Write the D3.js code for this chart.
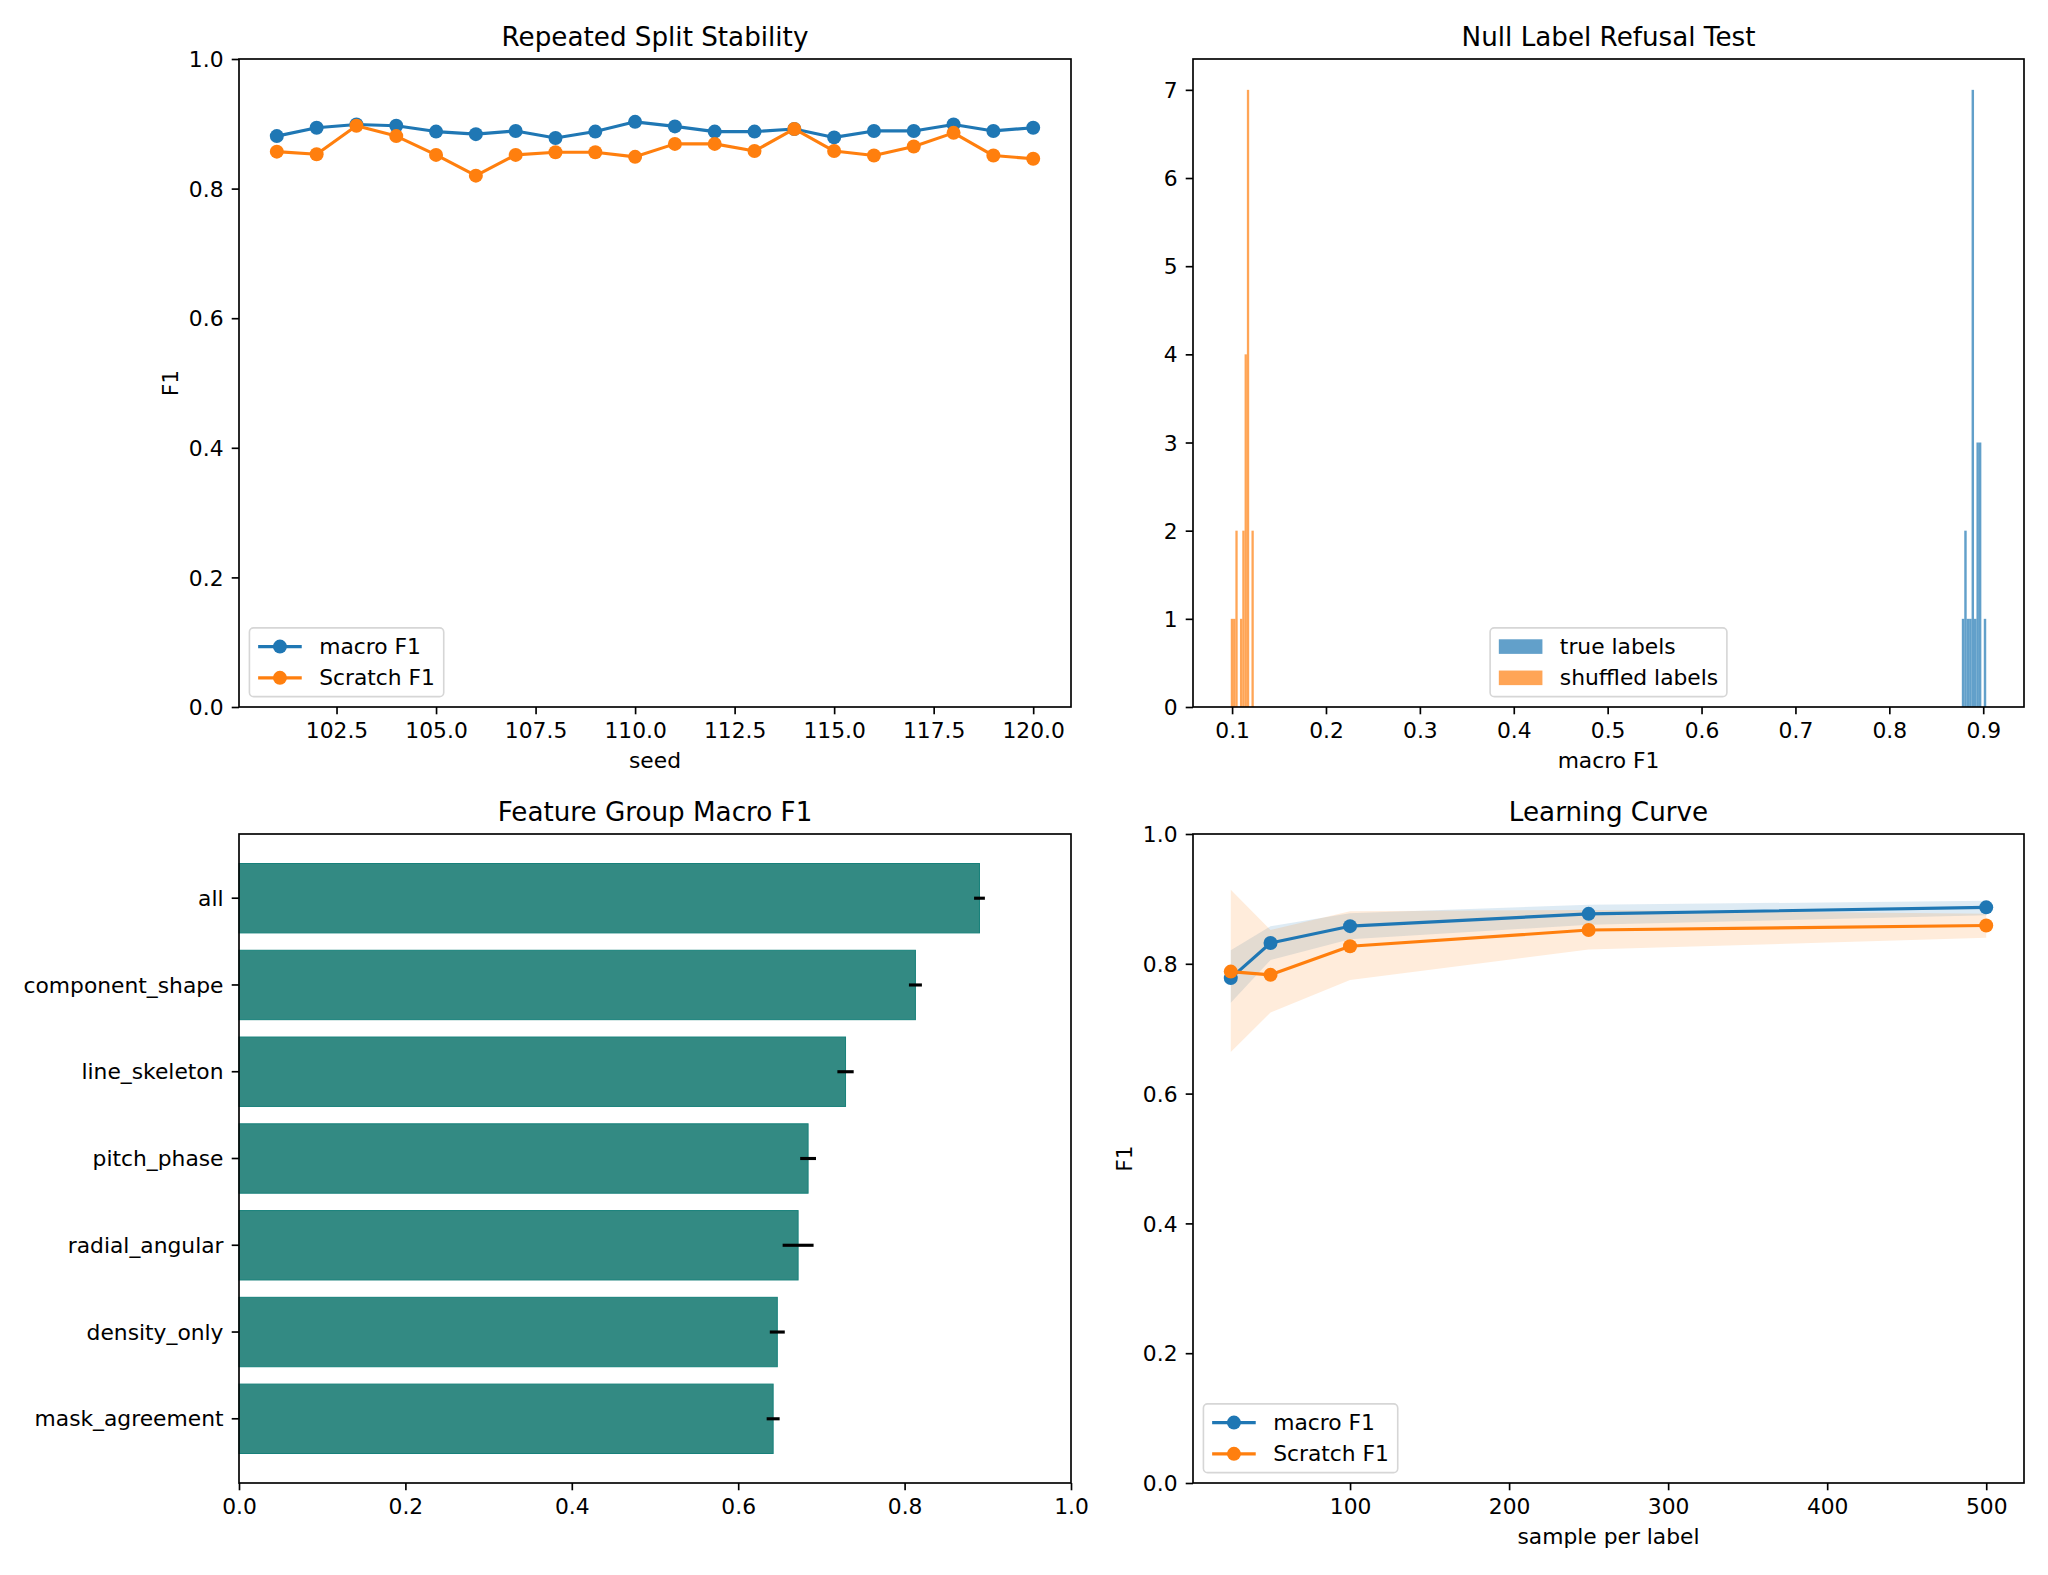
<!DOCTYPE html>
<html lang="en">
<head>
<meta charset="utf-8">
<title>Evaluation panels</title>
<script src="https://cdn.jsdelivr.net/npm/d3@7/dist/d3.min.js"></script>
<style>
  body { margin: 0; background: #fff; }
</style>
</head>
<body>
<script>
// values
var seeds = [101, 102, 103, 104, 105, 106, 107, 108, 109, 110,
             111, 112, 113, 114, 115, 116, 117, 118, 119, 120];
var splitMacro = [0.881, 0.894, 0.899, 0.897, 0.888, 0.884, 0.889, 0.878, 0.888, 0.903,
                  0.896, 0.888, 0.888, 0.892, 0.879, 0.889, 0.889, 0.899, 0.889, 0.894];
var splitScratch = [0.857, 0.853, 0.897, 0.881, 0.852, 0.820, 0.852, 0.856, 0.856, 0.849,
                    0.869, 0.869, 0.858, 0.892, 0.858, 0.851, 0.865, 0.886, 0.851, 0.846];
var seedTicks = [102.5, 105, 107.5, 110, 112.5, 115, 117.5, 120];
var f1Ticks = [0, 0.2, 0.4, 0.6, 0.8, 1.0];

// histograms: 10 bins over each range
var trueRange = [0.8772, 0.9032];
var trueCounts = [1, 2, 1, 1, 7, 1, 3, 3, 0, 1];
var shufRange = [0.0986, 0.1231];
var shufCounts = [1, 1, 2, 0, 1, 2, 4, 7, 0, 2];
var histTicksX = [0.1, 0.2, 0.3, 0.4, 0.5, 0.6, 0.7, 0.8, 0.9];
var histTicksY = [0, 1, 2, 3, 4, 5, 6, 7];

var groups = ["all", "component_shape", "line_skeleton", "pitch_phase",
              "radial_angular", "density_only", "mask_agreement"];
var groupF1 = [0.890, 0.813, 0.729, 0.684, 0.672, 0.647, 0.642];
var groupErr = [0.0065, 0.0078, 0.0098, 0.0095, 0.0186, 0.0090, 0.0078];
var barTicks = [0, 0.2, 0.4, 0.6, 0.8, 1.0];

var samples = [25, 50, 100, 250, 500];
var curveMacro = [0.778, 0.832, 0.858, 0.877, 0.887];
var curveMacroLo = [0.740, 0.806, 0.838, 0.860, 0.875];
var curveMacroHi = [0.821, 0.858, 0.878, 0.891, 0.897];
var curveScratch = [0.788, 0.783, 0.827, 0.852, 0.859];
var curveScratchLo = [0.664, 0.725, 0.775, 0.822, 0.840];
var curveScratchHi = [0.914, 0.852, 0.881, 0.883, 0.877];
var sampleTicks = [100, 200, 300, 400, 500];

var W = 2048, H = 1575;
var PT = 150 / 72;
var FS = 21.8, TFS = 26.2;
var FONT = "DejaVu Sans";
var blue = "#1f77b4", orange = "#ff7f0e";

var svg = d3.select("body").append("svg")
    .attr("width", W)
    .attr("height", H)
    .style("font-family", FONT);

var boxes = [
  {x0: 239, x1: 1071, y0: 59, y1: 707},
  {x0: 1193, x1: 2024, y0: 59, y1: 707},
  {x0: 239, x1: 1071, y0: 834, y1: 1483},
  {x0: 1193, x1: 2024, y0: 834, y1: 1483}
];

function styleAxis(a) {
  a.attr("font-size", FS).attr("font-family", FONT);
  a.select(".domain").remove();
  a.selectAll("line").attr("stroke", "#000").attr("stroke-width", 0.8 * PT);
  a.selectAll("text").attr("fill", "#000");
}

function bottomAxis(b, scale, ticks, fmt) {
  var ax = d3.axisBottom(scale).tickValues(ticks).tickFormat(fmt)
      .tickSizeInner(3.5 * PT).tickSizeOuter(0).tickPadding(8.6);
  var a = svg.append("g").attr("transform", "translate(0," + b.y1 + ")").call(ax);
  styleAxis(a);
}

function leftAxis(b, scale, ticks, fmt) {
  var ax = d3.axisLeft(scale).tickSizeInner(3.5 * PT).tickSizeOuter(0).tickPadding(8.2);
  if (ticks) ax.tickValues(ticks);
  if (fmt) ax.tickFormat(fmt);
  var a = svg.append("g").attr("transform", "translate(" + b.x0 + ",0)").call(ax);
  styleAxis(a);
  a.selectAll("text").attr("dy", "0.35em");
}

function frame(b) {
  svg.append("rect")
      .attr("x", b.x0).attr("y", b.y0)
      .attr("width", b.x1 - b.x0).attr("height", b.y1 - b.y0)
      .attr("fill", "none").attr("stroke", "#000").attr("stroke-width", 0.8 * PT);
}

function title(b, txt) {
  svg.append("text").attr("x", (b.x0 + b.x1) / 2).attr("y", b.y0 - 13.5)
      .attr("text-anchor", "middle").attr("font-size", TFS).text(txt);
}

function xlabel(b, txt) {
  svg.append("text").attr("x", (b.x0 + b.x1) / 2).attr("y", b.y1 + 61)
      .attr("text-anchor", "middle").attr("font-size", FS).text(txt);
}

function ylabel(b, x, txt) {
  var yc = (b.y0 + b.y1) / 2;
  svg.append("text").attr("transform", "translate(" + x + "," + yc + ") rotate(-90)")
      .attr("text-anchor", "middle").attr("font-size", FS).text(txt);
}

function legend(b, items, where) {
  var pad = 0.4 * FS, hl = 2 * FS, htp = 0.8 * FS, ls = 0.5 * FS;
  var fs0 = 10 * PT;
  var g = svg.append("g");
  var box = g.append("rect");
  var texts = items.map(function(d) {
    return g.append("text").attr("font-size", FS).text(d.label);
  });
  var tw = d3.max(texts, function(t) { return t.node().getComputedTextLength(); });
  var w = 2 * pad + hl + htp + tw;
  var h = 2 * 0.4 * fs0 + items.length * fs0 + (items.length - 1) * 0.5 * fs0;
  var x = where === "left" ? b.x0 + 0.5 * fs0 : (b.x0 + b.x1) / 2 - w / 2;
  var y = b.y1 - 0.5 * fs0 - h;
  box.attr("x", x).attr("y", y).attr("width", w).attr("height", h)
     .attr("rx", 0.2 * fs0).attr("fill", "#fff").attr("fill-opacity", 0.8)
     .attr("stroke", "#d6d6d6").attr("stroke-width", 1.6);
  items.forEach(function(d, i) {
    var cy = y + 0.4 * fs0 + fs0 / 2 + i * 1.5 * fs0;
    var hx = x + pad;
    if (d.kind === "line") {
      g.append("line").attr("x1", hx).attr("x2", hx + hl).attr("y1", cy).attr("y2", cy)
          .attr("stroke", d.color).attr("stroke-width", 1.5 * PT);
      g.append("circle").attr("cx", hx + hl / 2).attr("cy", cy).attr("r", 7).attr("fill", d.color);
    } else {
      g.append("rect").attr("x", hx).attr("y", cy - 0.35 * fs0).attr("width", hl)
          .attr("height", 0.7 * fs0).attr("fill", d.color).attr("fill-opacity", 0.7);
    }
    texts[i].attr("x", hx + hl + htp).attr("y", cy + 7.6);
  });
}

function series(x, y, xs, ys, color) {
  var pts = xs.map(function(v, i) { return [v, ys[i]]; });
  var line = d3.line().x(function(d) { return x(d[0]); }).y(function(d) { return y(d[1]); });
  svg.append("path").datum(pts).attr("d", line)
      .attr("fill", "none").attr("stroke", color).attr("stroke-width", 1.5 * PT)
      .attr("stroke-linejoin", "round");
  svg.append("g").selectAll("circle").data(pts).enter().append("circle")
      .attr("cx", function(d) { return x(d[0]); })
      .attr("cy", function(d) { return y(d[1]); })
      .attr("r", 7).attr("fill", color);
}

var fmt1 = d3.format(".1f");

// ---- panel 1: repeated split stability ----
(function() {
  var b = boxes[0];
  var x = d3.scaleLinear().domain([100.05, 120.95]).range([b.x0, b.x1]);
  var y = d3.scaleLinear().domain([0, 1]).range([b.y1, b.y0]);
  series(x, y, seeds, splitMacro, blue);
  series(x, y, seeds, splitScratch, orange);
  frame(b);
  bottomAxis(b, x, seedTicks, fmt1);
  leftAxis(b, y, f1Ticks, fmt1);
  title(b, "Repeated Split Stability");
  xlabel(b, "seed");
  ylabel(b, 177.6, "F1");
  legend(b, [{label: "macro F1", color: blue, kind: "line"},
             {label: "Scratch F1", color: orange, kind: "line"}], "left");
})();

// ---- panel 2: null label refusal test ----
(function() {
  var b = boxes[1];
  var lo = shufRange[0], hi = trueRange[1], r = hi - lo;
  var x = d3.scaleLinear().domain([lo - 0.05 * r, hi + 0.05 * r]).range([b.x0, b.x1]);
  var y = d3.scaleLinear().domain([0, 7.35]).range([b.y1, b.y0]);
  function hist(range, counts, color) {
    var w = (range[1] - range[0]) / counts.length;
    svg.append("g").selectAll("rect").data(counts).enter().append("rect")
        .attr("x", function(d, i) { return x(range[0] + i * w); })
        .attr("width", function(d, i) { return x(range[0] + (i + 1) * w) - x(range[0] + i * w); })
        .attr("y", function(d) { return y(d); })
        .attr("height", function(d) { return y(0) - y(d); })
        .attr("fill", color).attr("fill-opacity", 0.7);
  }
  hist(trueRange, trueCounts, blue);
  hist(shufRange, shufCounts, orange);
  frame(b);
  bottomAxis(b, x, histTicksX, fmt1);
  leftAxis(b, y, histTicksY, d3.format("d"));
  title(b, "Null Label Refusal Test");
  xlabel(b, "macro F1");
  legend(b, [{label: "true labels", color: blue, kind: "patch"},
             {label: "shuffled labels", color: orange, kind: "patch"}], "center");
})();

// ---- panel 3: feature group macro F1 ----
(function() {
  var b = boxes[2];
  var x = d3.scaleLinear().domain([0, 1]).range([b.x0, b.x1]);
  var y = d3.scaleBand().domain(groups).range([b.y0, b.y1]).paddingInner(0.2).paddingOuter(0.34);
  svg.append("g").selectAll("rect").data(groups).enter().append("rect")
      .attr("x", x(0))
      .attr("y", function(d) { return y(d); })
      .attr("width", function(d, i) { return x(groupF1[i]) - x(0); })
      .attr("height", y.bandwidth())
      .attr("fill", "#338a83").attr("stroke", "#17807a").attr("stroke-width", 1);
  svg.append("g").selectAll("line").data(groups).enter().append("line")
      .attr("x1", function(d, i) { return x(groupF1[i] - groupErr[i]); })
      .attr("x2", function(d, i) { return x(groupF1[i] + groupErr[i]); })
      .attr("y1", function(d) { return y(d) + y.bandwidth() / 2; })
      .attr("y2", function(d) { return y(d) + y.bandwidth() / 2; })
      .attr("stroke", "#000").attr("stroke-width", 1.5 * PT);
  frame(b);
  bottomAxis(b, x, barTicks, fmt1);
  leftAxis(b, y);
  title(b, "Feature Group Macro F1");
})();

// ---- panel 4: learning curve ----
(function() {
  var b = boxes[3];
  var x = d3.scaleLinear().domain([1.25, 523.75]).range([b.x0, b.x1]);
  var y = d3.scaleLinear().domain([0, 1]).range([b.y1, b.y0]);
  function band(lo, hi, color) {
    var area = d3.area()
        .x(function(d, i) { return x(samples[i]); })
        .y0(function(d, i) { return y(lo[i]); })
        .y1(function(d, i) { return y(hi[i]); });
    svg.append("path").datum(samples).attr("d", area)
        .attr("fill", color).attr("fill-opacity", 0.15);
  }
  band(curveMacroLo, curveMacroHi, blue);
  band(curveScratchLo, curveScratchHi, orange);
  series(x, y, samples, curveMacro, blue);
  series(x, y, samples, curveScratch, orange);
  frame(b);
  bottomAxis(b, x, sampleTicks, d3.format("d"));
  leftAxis(b, y, f1Ticks, fmt1);
  title(b, "Learning Curve");
  xlabel(b, "sample per label");
  ylabel(b, 1132, "F1");
  legend(b, [{label: "macro F1", color: blue, kind: "line"},
             {label: "Scratch F1", color: orange, kind: "line"}], "left");
})();
</script>
</body>
</html>
